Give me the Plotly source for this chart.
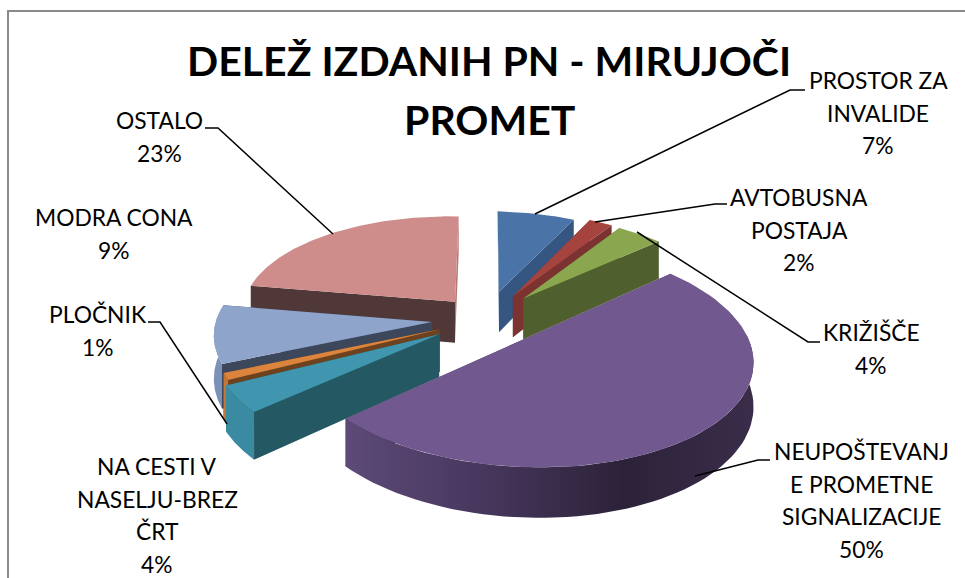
import numpy as np
import plotly.graph_objects as go

categories = ["PROSTOR ZA<br>INVALIDE", "AVTOBUSNA<br>POSTAJA", "KRIŽIŠČE",
              "NEUPOŠTEVANJ<br>E PROMETNE<br>SIGNALIZACIJE", "NA CESTI V<br>NASELJU-BREZ<br>ČRT",
              "PLOČNIK", "MODRA CONA", "OSTALO"]
shares = [7, 2, 4, 50, 4, 1, 9, 23]
explode = [0.284, 0.264, 0.277, 0.25, 0.26, 0.235, 0.25, 0.22]
radius = [0.95, 1.0, 0.98, 1.01, 1.0, 1.0, 0.98, 0.985]

top_colors = ["#4A73A8", "#A5443F", "#8AA64F", "#71588F", "#3F96AE", "#DB843D", "#8FA4CB", "#CE8D8B"]
start_face = ["#41689A", "#7B3230", "#4F5F2E", "#3A2D4A", "#245862", "#6E421E", "#3D475C", "#513838"]
end_face = ["#345681", "#7B3230", "#4F5F2E", "#3A2D4A", "#245862", "#6E421E", "#3D475C", "#B97876"]
wall_colors = ["#345681", "#7B3230", "#4F5F2E", None, "#3A8BA1", "#C47733", "#7C90B8", "#B97876"]
draw_order = [7, 0, 1, 2, 6, 5, 4, 3]

label_pos = [(878, 80), (799, 197), (871, 332), (861, 451), (157, 466), (98, 314), (114, 217), (159, 120)]
line_gap = 32.7
leaders = [[(535, 214), (790, 90), (805, 90)],
           [(595, 222), (715, 204), (727, 204)],
           [(637, 232), (808, 342), (820, 342)],
           [(695, 476), (758, 460), (770, 460)],
           [(227, 424), (160, 322), (148, 322)],
           [(333, 234), (218, 128), (205, 128)]]
title_lines = ["DELEŽ IZDANIH PN - MIRUJOČI", "PROMET"]
title_pos = [(489, 60), (489, 119)]

CX, CY, RX, RY, K, D, SHEAR = 486, 319, 218, 103, 0.14, 42, 0.02


def project(u, v, down=False):
    w = 1 + K * v
    x = CX + RX * u / w
    y = CY - RY * v / w + (D / w if down else 0) + SHEAR * (x - CX)
    return x, y


def poly(fig, xs, ys, color=None, grad=None):
    kw = dict(fillgradient=grad) if grad else dict(fillcolor=color)
    fig.add_trace(go.Scatter(x=list(xs), y=list(ys), mode="lines", fill="toself",
                             line=dict(width=0), hoverinfo="skip", showlegend=False, **kw))


fig = go.Figure()
edges = np.radians(np.concatenate([[0], np.cumsum(shares)]) * 3.6)

for i in draw_order:
    a0, a1 = edges[i], edges[i + 1]
    mid = (a0 + a1) / 2
    r = radius[i]
    u0, v0 = explode[i] * np.sin(mid), explode[i] * np.cos(mid)
    th = np.linspace(a0, a1, 80)
    u, v = u0 + r * np.sin(th), v0 + r * np.cos(th)
    for a, col in ((a0, start_face[i]), (a1, end_face[i])):
        eu, ev = u0 + r * np.sin(a), v0 + r * np.cos(a)
        p = [project(u0, v0), project(eu, ev), project(eu, ev, True), project(u0, v0, True)]
        poly(fig, [q[0] for q in p], [q[1] for q in p], col)
    mask = np.cos(th) < 0.1
    if mask.sum() > 1:
        xa, ya = project(u[mask], v[mask])
        xb, yb = project(u[mask], v[mask], True)
        xs = np.concatenate([xa, xb[::-1]])
        ys = np.concatenate([ya, yb[::-1]])
        if wall_colors[i] is None:
            grad = dict(type="horizontal", colorscale=[[0, "#5D4A78"], [0.35, "#46365C"],
                                                       [0.68, "#2C2238"], [1, "#3A2D4A"]])
            poly(fig, xs, ys, grad=grad)
        else:
            poly(fig, xs, ys, wall_colors[i])
    xt, yt = project(u, v)
    ax, ay = project(u0, v0)
    poly(fig, np.append(xt, ax), np.append(yt, ay), top_colors[i])

for pts in leaders:
    fig.add_trace(go.Scatter(x=[p[0] for p in pts], y=[p[1] for p in pts], mode="lines",
                             line=dict(color="black", width=1.5), hoverinfo="skip", showlegend=False))

annotations = []
for cat, val, (x, y) in zip(categories, shares, label_pos):
    for j, line in enumerate(cat.split("<br>") + [f"{val}%"]):
        annotations.append(dict(x=x, y=y + j * line_gap, text=line, showarrow=False, xanchor="center",
                                yanchor="middle", font=dict(family="Lato", size=22.8, color="black")))
for line, (x, y) in zip(title_lines, title_pos):
    annotations.append(dict(x=x, y=y, text=line, showarrow=False, xanchor="center", yanchor="middle",
                            font=dict(family="Lato", size=41, color="black", weight="bold")))

frame = dict(type="rect", xref="x", yref="y", x0=8, y0=11, x1=1000, y1=600,
             line=dict(color="#8A8A8A", width=2), layer="below")

fig.update_layout(
    width=965, height=578, margin=dict(l=0, r=0, t=0, b=0),
    paper_bgcolor="white", plot_bgcolor="white",
    xaxis=dict(range=[0, 965], visible=False, fixedrange=True),
    yaxis=dict(range=[578, 0], visible=False, fixedrange=True),
    annotations=annotations, shapes=[frame], showlegend=False,
)
fig.write_html("out.html", config={"displayModeBar": False},
               post_script="document.body.style.margin='0';document.documentElement.style.overflow='hidden';")
